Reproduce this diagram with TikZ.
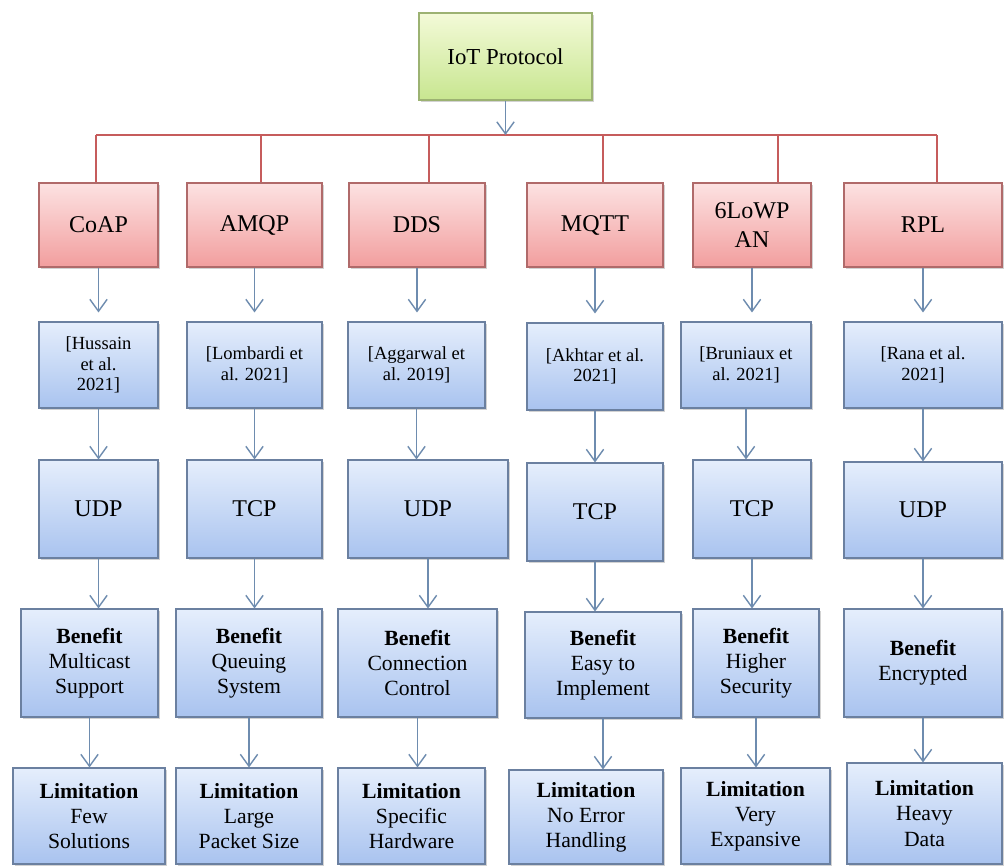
\documentclass[tikz,border=0pt]{standalone}
\usepackage{fontspec}
\setmainfont{LiberationSerif}[Extension=.ttf, UprightFont=*-Regular, BoldFont=*-Bold, ItalicFont=*-Italic, BoldItalicFont=*-BoldItalic]
\usetikzlibrary{arrows.meta,shadows}

\definecolor{roottop}{HTML}{F3FAD8}
\definecolor{rootbot}{HTML}{C8E690}
\definecolor{rootline}{HTML}{9CB272}
\definecolor{prototop}{HTML}{FCE2E2}
\definecolor{protobot}{HTML}{F29E9E}
\definecolor{protoline}{HTML}{B06A6A}
\definecolor{infotop}{HTML}{E5EEFC}
\definecolor{infobot}{HTML}{A9C3EF}
\definecolor{infoline}{HTML}{6B80A0}
\definecolor{flowcol}{HTML}{6E8CAF}
\definecolor{buscol}{HTML}{C65C5C}

\begin{document}
\begin{tikzpicture}[x=0.03cm, y=-0.03cm,
    size/.style 2 args={minimum width=#1*0.03cm, minimum height=#2*0.03cm},
    box/.style={draw, line width=0.9pt, align=center, inner sep=1pt,
        drop shadow={shadow xshift=1.6pt, shadow yshift=-1.6pt, opacity=0.35, fill=black!50}},
    rootbox/.style={box, draw=rootline, top color=roottop, bottom color=rootbot, font=\fontsize{19.5}{23}\selectfont},
    protobox/.style={box, draw=protoline, top color=prototop, bottom color=protobot, font=\fontsize{20.5}{24}\selectfont},
    infobox/.style={box, draw=infoline, top color=infotop, bottom color=infobot},
    refbox/.style={infobox, font=\fontsize{15.8}{17.5}\selectfont},
    tpbox/.style={infobox, font=\fontsize{20.5}{24}\selectfont},
    notebox/.style={infobox, font=\fontsize{18.5}{21.5}\selectfont},
    flow/.style={draw=flowcol, line width=1.2pt, -{Straight Barb[length=3.6mm,width=5.2mm]}},
    busline/.style={draw=buscol, line width=1.3pt}
]
    \path[use as bounding box, fill=white] (0,0) rectangle (1007,866);

    \node[rootbox, size={173}{87}] (iot) at (505.5,56.5) {IoT Protocol};

    % protocols
    \node[protobox, size={119}{84}] (coap) at (98.5,225) {CoAP};
    \node[protobox, size={135}{84}] (amqp) at (254.5,225) {AMQP};
    \node[protobox, size={136}{84}] (dds) at (417,225) {DDS};
    \node[protobox, size={136}{84}] (mqtt) at (595,225) {MQTT};
    \node[protobox, size={118}{84}] (lowpan) at (752,225) {6LoWP\\AN};
    \node[protobox, size={158}{84}] (rpl) at (923,225) {RPL};

    % references
    \node[refbox, size={119}{86}] (hussain) at (98.5,365) {[Hussain\\et al.\\2021]};
    \node[refbox, size={135}{86}] (lombardi) at (254.5,365) {[Lombardi et\\al. 2021]};
    \node[refbox, size={137}{86}] (aggarwal) at (416.5,365) {[Aggarwal et\\al. 2019]};
    \node[refbox, size={136}{87}] (akhtar) at (595,366.5) {[Akhtar et al.\\2021]};
    \node[refbox, size={130}{86}] (bruniaux) at (746,365) {[Bruniaux et\\al. 2021]};
    \node[refbox, size={158}{86}] (rana) at (923,365) {[Rana et al.\\2021]};

    % transport
    \node[tpbox, size={119}{98}] (udpA) at (98.5,509) {UDP};
    \node[tpbox, size={135}{98}] (tcpA) at (254.5,509) {TCP};
    \node[tpbox, size={160}{98}] (udpB) at (428,509) {UDP};
    \node[tpbox, size={136}{98}] (tcpB) at (595,512) {TCP};
    \node[tpbox, size={118}{98}] (tcpC) at (752,509) {TCP};
    \node[tpbox, size={158}{96}] (udpC) at (923,510) {UDP};

    % benefits
    \node[notebox, size={137}{108}] (benA) at (89.5,663) {\textbf{Benefit}\\Multicast\\Support};
    \node[notebox, size={146}{108}] (benB) at (249,663) {\textbf{Benefit}\\Queuing\\System};
    \node[notebox, size={159}{108}] (benC) at (417.5,663) {\textbf{Benefit}\\Connection\\Control};
    \node[notebox, size={156}{106}] (benD) at (603,665) {\textbf{Benefit}\\Easy to\\Implement};
    \node[notebox, size={126}{108}] (benE) at (756,663) {\textbf{Benefit}\\Higher\\Security};
    \node[notebox, size={158}{108}] (benF) at (923,663) {\textbf{Benefit}\\Encrypted};

    % limitations
    \node[notebox, size={152}{96}] (limA) at (89,816) {\textbf{Limitation}\\Few\\Solutions};
    \node[notebox, size={146}{96}] (limB) at (249,816) {\textbf{Limitation}\\Large\\Packet Size};
    \node[notebox, size={147}{96}] (limC) at (411.5,816) {\textbf{Limitation}\\Specific\\Hardware};
    \node[notebox, size={154}{94}] (limD) at (586,817) {\textbf{Limitation}\\No Error\\Handling};
    \node[notebox, size={149}{96}] (limE) at (755.5,816) {\textbf{Limitation}\\Very\\Expansive};
    \node[notebox, size={155}{101}] (limF) at (924.5,813.5) {\textbf{Limitation}\\Heavy\\Data};

    % red tree
    \foreach \n/\x in {coap/96, amqp/261, dds/429, mqtt/603, lowpan/778, rpl/937}{
        \coordinate (tap\n) at (\x,135);
        \draw[busline] (tap\n) -- (tap\n |- \n.north);
    }
    \draw[busline] (tapcoap) -- (taprpl);
    \draw[flow] (iot.south) -- (iot.south |- tapcoap);

    \foreach \a/\b in {coap/hussain, amqp/lombardi, dds/aggarwal, mqtt/akhtar, lowpan/bruniaux, rpl/rana}
        \draw[flow, shorten >=2.7mm] (\a.south) -- (\a.south |- \b.north);
    \foreach \a/\b in {hussain/udpA, lombardi/tcpA, aggarwal/udpB, akhtar/tcpB, bruniaux/tcpC, rana/udpC}
        \draw[flow] (\a.south) -- (\a.south |- \b.north);
    \foreach \a/\b in {udpA/benA, tcpA/benB, udpB/benC, tcpB/benD, tcpC/benE, udpC/benF}
        \draw[flow] (\a.south) -- (\a.south |- \b.north);
    \foreach \a/\b in {benA/limA, benB/limB, benC/limC, benD/limD, benE/limE, benF/limF}
        \draw[flow] (\a.south) -- (\a.south |- \b.north);

\end{tikzpicture}
\end{document}
